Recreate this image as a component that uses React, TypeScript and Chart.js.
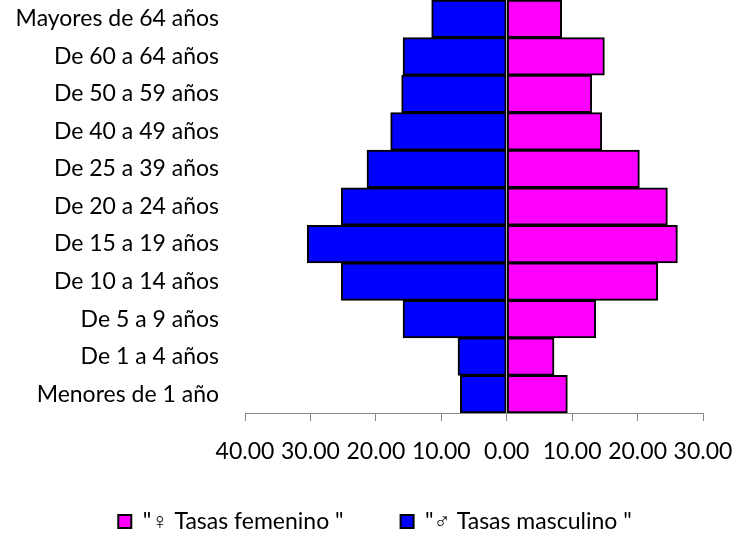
import React, { useEffect, useRef } from "react";
import { Chart, registerables } from "chart.js";

Chart.register(...registerables);

const categories = [
  "Mayores de 64 años",
  "De 60 a 64 años",
  "De 50 a 59 años",
  "De 40 a 49 años",
  "De 25 a 39 años",
  "De 20 a 24 años",
  "De 15 a 19 años",
  "De 10 a 14 años",
  "De 5 a 9 años",
  "De 1 a 4 años",
  "Menores de 1 año",
];

const femaleRates = [8.41, 14.93, 13.0, 14.53, 20.28, 24.56, 26.09, 23.09, 13.61, 7.23, 9.27];
const maleRates = [11.47, 15.85, 16.06, 17.74, 21.36, 25.29, 30.49, 25.29, 15.85, 7.45, 7.09];

const femaleLabel = '"♀ Tasas femenino "';
const maleLabel = '"♂ Tasas masculino "';

const xMin = -40;
const xMax = 30;
const xStep = 10;

const FONT = "Lato";
const FS = 23;

export default function App() {
  const canvasRef = useRef<HTMLCanvasElement>(null);

  useEffect(() => {
    const canvas = canvasRef.current;
    if (!canvas) return;
    const chart = new Chart(canvas, {
      type: "bar",
      data: {
        labels: categories,
        datasets: [
          {
            label: femaleLabel + "         ",
            data: femaleRates,
            backgroundColor: "#ff00ff",
            borderColor: "#000000",
            borderWidth: 2,
            borderSkipped: false,
            barPercentage: 1,
            categoryPercentage: 1,
          },
          {
            label: maleLabel,
            data: maleRates.map((v) => -v),
            backgroundColor: "#0000ff",
            borderColor: "#000000",
            borderWidth: 2,
            borderSkipped: false,
            barPercentage: 1,
            categoryPercentage: 1,
          },
        ],
      },
      options: {
        indexAxis: "y",
        animation: false,
        responsive: false,
        maintainAspectRatio: false,
        layout: { padding: { top: -2, left: 16, right: 0, bottom: -9 } },
        plugins: {
          tooltip: { enabled: false },
          legend: {
            position: "bottom",
            labels: {
              boxWidth: 13,
              boxHeight: 13,
              padding: 4,
              color: "#000",
              font: { family: FONT, size: FS },
            },
          },
        },
        scales: {
          x: {
            stacked: true,
            min: xMin,
            max: xMax,
            afterFit: (scale: any) => {
              scale.height = 93;
              scale.paddingLeft = 0;
              scale.paddingRight = 31;
            },
            ticks: {
              stepSize: xStep,
              color: "#000",
              padding: 17,
              maxRotation: 0,
              autoSkip: false,
              font: { family: FONT, size: FS },
              callback: (v: any) => Math.abs(Number(v)).toFixed(2),
            },
            grid: {
              drawOnChartArea: false,
              drawTicks: true,
              tickLength: 8,
              color: "#868686",
            },
            border: { display: true, color: "#868686", width: 1 },
          },
          y: {
            stacked: true,
            afterFit: (scale: any) => {
              scale.width = 229;
              scale.paddingTop = 0;
              scale.paddingBottom = 0;
            },
            ticks: {
              color: "#000",
              padding: 26,
              font: { family: FONT, size: FS },
            },
            grid: { display: false, drawTicks: false },
            border: { display: false },
          },
        },
      },
    });
    return () => chart.destroy();
  }, []);

  return (
    <div style={{ position: "fixed", left: 0, top: 0, width: 734, height: 534, background: "#fff" }}>
      <canvas ref={canvasRef} width={734} height={534} style={{ width: 734, height: 534 }} />
    </div>
  );
}
